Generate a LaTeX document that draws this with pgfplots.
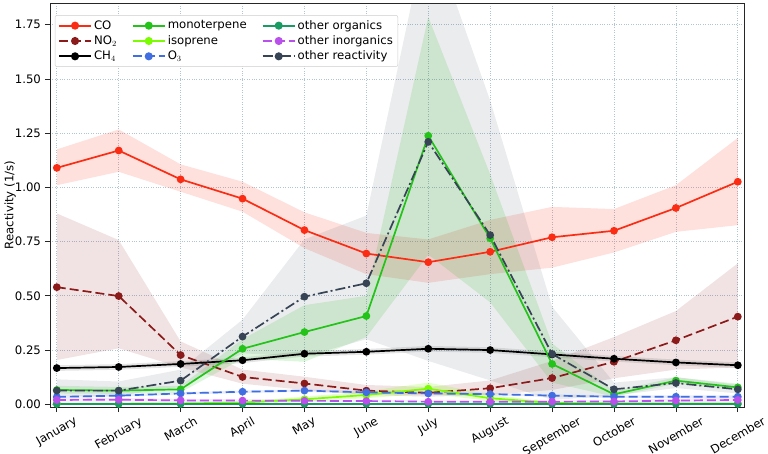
\documentclass[border=0pt]{standalone}
\usepackage{fontspec}
\setmainfont{DejaVu Sans}
\usepackage{graphicx}
\usepackage{pgfplots}
\pgfplotsset{compat=1.18}
\definecolor{cCO}{RGB}{250,45,20}
\definecolor{cNO}{RGB}{139,26,26}
\definecolor{cMono}{RGB}{35,195,25}
\definecolor{cIso}{RGB}{124,252,0}
\definecolor{cO3}{RGB}{65,110,225}
\definecolor{cOrg}{RGB}{25,155,100}
\definecolor{cInorg}{RGB}{185,80,235}
\definecolor{cReact}{RGB}{55,68,85}
\definecolor{gridc}{RGB}{176,196,210}
\newcommand{\ff}{\fontsize{11.7}{14}\selectfont}
\begin{document}
\ff
\begin{tikzpicture}[font=\ff]
\path[use as bounding box] (-50pt,-46pt) rectangle (718pt,407pt);
\begin{axis}[
  scale only axis, width=694pt, height=404pt,
  at={(0,0)}, anchor=south west,
  xmin=-0.11, xmax=11.1, ymin=-0.0125, ymax=1.85,
  xtick={0,1,2,3,4,5,6,7,8,9,10,11},
  xticklabels={\rotatebox{30}{January},\rotatebox{30}{February},\rotatebox{30}{March},\rotatebox{30}{April},\rotatebox{30}{May},\rotatebox{30}{June},\rotatebox{30}{July},\rotatebox{30}{August},\rotatebox{30}{September},\rotatebox{30}{October},\rotatebox{30}{November},\rotatebox{30}{December}},
  xticklabel style={anchor=north, font=\ff},
  ytick={0,0.25,0.5,0.75,1,1.25,1.5,1.75},
  yticklabel style={font=\ff, /pgf/number format/.cd, fixed, fixed zerofill, precision=2, assume math mode=true},
  tick pos=left, tick align=outside, major tick length=5pt,
  tick style={black!85, line width=0.8pt},
  axis line style={black!85, line width=0.9pt},
  grid=major, major grid style={gridc, dotted, line width=0.8pt},
  ylabel={Reactivity (1/s)},
  ylabel style={font=\ff, at={(axis description cs:-0.0576,0.5)}, anchor=center},
  legend columns=3, transpose legend,
  legend style={font=\ff, at={(0.007,0.97)}, anchor=north west, draw=black!20, rounded corners=2pt, fill=white, /tikz/every even column/.append style={column sep=13pt}, row sep=0.7pt, inner sep=3pt},
  legend cell align=left,
  every axis plot/.append style={line width=1.7pt, mark size=3pt,
    legend image code/.code={\draw[line width=2pt, mark repeat=2,mark phase=2] plot coordinates {(0pt,0pt)(16pt,0pt)(32pt,0pt)};}},
]
% ---- bands ----
\addplot[fill=cCO, fill opacity=0.15, draw=none, mark=none, forget plot] coordinates {
(0,1.175)(1,1.267)(2,1.106)(3,1.026)(4,0.885)(5,0.79)(6,0.76)(7,0.85)(8,0.91)(9,0.90)(10,1.01)(11,1.228)
(11,0.826)(10,0.795)(9,0.70)(8,0.63)(7,0.60)(6,0.56)(5,0.60)(4,0.72)(3,0.888)(2,0.98)(1,1.072)(0,1.01)};
\addplot[fill=cNO, fill opacity=0.12, draw=none, mark=none, forget plot] coordinates {
(0,0.88)(1,0.757)(2,0.29)(3,0.16)(4,0.127)(5,0.089)(6,0.08)(7,0.11)(8,0.20)(9,0.31)(10,0.43)(11,0.65)
(11,0.17)(10,0.16)(9,0.12)(8,0.066)(7,0.043)(6,0.035)(5,0.043)(4,0.066)(3,0.095)(2,0.17)(1,0.258)(0,0.204)};
\addplot[fill=black, fill opacity=0.1, draw=none, mark=none, forget plot] coordinates {
(0,0.180)(1,0.185)(2,0.199)(3,0.216)(4,0.246)(5,0.255)(6,0.269)(7,0.263)(8,0.243)(9,0.223)(10,0.206)(11,0.193)
(11,0.167)(10,0.180)(9,0.197)(8,0.217)(7,0.237)(6,0.243)(5,0.229)(4,0.220)(3,0.190)(2,0.173)(1,0.159)(0,0.154)};
\addplot[fill=cMono, fill opacity=0.15, draw=none, mark=none, forget plot] coordinates {
(0,0.085)(1,0.08)(2,0.085)(3,0.30)(4,0.457)(5,0.50)(6,1.786)(7,1.06)(8,0.28)(9,0.06)(10,0.125)(11,0.095)
(11,0.065)(10,0.095)(9,0.035)(8,0.10)(7,0.47)(6,0.69)(5,0.31)(4,0.196)(3,0.21)(2,0.055)(1,0.048)(0,0.05)};
\addplot[fill=cIso, fill opacity=0.2, draw=none, mark=none, forget plot] coordinates {
(0,0.006)(1,0.006)(2,0.007)(3,0.013)(4,0.035)(5,0.06)(6,0.10)(7,0.045)(8,0.01)(9,0.007)(10,0.007)(11,0.007)
(11,0.001)(10,0.001)(9,0.001)(8,0.002)(7,0.015)(6,0.05)(5,0.028)(4,0.013)(3,0.004)(2,0.001)(1,0)(0,0)};
\addplot[fill=cO3, fill opacity=0.12, draw=none, mark=none, forget plot] coordinates {
(0,0.040)(1,0.046)(2,0.056)(3,0.064)(4,0.069)(5,0.061)(6,0.056)(7,0.053)(8,0.046)(9,0.041)(10,0.041)(11,0.041)
(11,0.029)(10,0.029)(9,0.029)(8,0.034)(7,0.041)(6,0.044)(5,0.049)(4,0.057)(3,0.052)(2,0.044)(1,0.034)(0,0.028)};
\addplot[fill=cInorg, fill opacity=0.12, draw=none, mark=none, forget plot] coordinates {
(0,0.028)(1,0.029)(2,0.025)(3,0.023)(4,0.022)(5,0.021)(6,0.018)(7,0.018)(8,0.018)(9,0.020)(10,0.026)(11,0.030)
(11,0.010)(10,0.008)(9,0.006)(8,0.006)(7,0.006)(6,0.006)(5,0.009)(4,0.010)(3,0.011)(2,0.011)(1,0.013)(0,0.012)};
\addplot[fill=cReact, fill opacity=0.1, draw=none, mark=none, forget plot] coordinates {
(0,0.115)(1,0.105)(2,0.16)(3,0.39)(4,0.76)(5,0.87)(6,2.21)(7,1.40)(8,0.45)(9,0.10)(10,0.125)(11,0.09)
(11,0.05)(10,0.075)(9,0.04)(8,0.02)(7,0.11)(6,0.20)(5,0.30)(4,0.22)(3,0.235)(2,0.08)(1,0.04)(0,0.04)};
% ---- lines ----
\addplot[cCO, mark=*, mark options={solid}] coordinates {
(0,1.09)(1,1.17)(2,1.037)(3,0.948)(4,0.803)(5,0.695)(6,0.655)(7,0.703)(8,0.77)(9,0.80)(10,0.905)(11,1.026)};
\addlegendentry{CO}
\addplot[cNO, mark=*, mark options={solid}, dash pattern=on 9pt off 4pt] coordinates {
(0,0.54)(1,0.499)(2,0.227)(3,0.126)(4,0.096)(5,0.063)(6,0.053)(7,0.074)(8,0.121)(9,0.196)(10,0.295)(11,0.404)};
\addlegendentry{NO$_2$}
\addplot[black, mark=*, mark options={solid}] coordinates {
(0,0.167)(1,0.172)(2,0.186)(3,0.203)(4,0.233)(5,0.242)(6,0.256)(7,0.25)(8,0.23)(9,0.21)(10,0.193)(11,0.18)};
\addlegendentry{CH$_4$}
\addplot[cMono, mark=*, mark options={solid}] coordinates {
(0,0.066)(1,0.063)(2,0.069)(3,0.256)(4,0.333)(5,0.407)(6,1.238)(7,0.765)(8,0.186)(9,0.046)(10,0.109)(11,0.078)};
\addlegendentry{monoterpene}
\addplot[cIso, mark=*, mark options={solid}] coordinates {
(0,0.003)(1,0.003)(2,0.004)(3,0.008)(4,0.023)(5,0.043)(6,0.072)(7,0.028)(8,0.006)(9,0.004)(10,0.004)(11,0.004)};
\addlegendentry{isoprene}
\addplot[cO3, mark=*, mark options={solid}, dash pattern=on 9pt off 4pt] coordinates {
(0,0.034)(1,0.04)(2,0.05)(3,0.058)(4,0.063)(5,0.055)(6,0.05)(7,0.047)(8,0.04)(9,0.035)(10,0.035)(11,0.035)};
\addlegendentry{O$_3$}
\addplot[cOrg, mark=*, mark options={solid}] coordinates {
(0,0.002)(1,0.002)(2,0.002)(3,0.002)(4,0.002)(5,0.002)(6,0.002)(7,0.002)(8,0.002)(9,0.002)(10,0.002)(11,0.002)};
\addlegendentry{other organics}
\addplot[cInorg, mark=*, mark options={solid}, dash pattern=on 9pt off 4pt] coordinates {
(0,0.02)(1,0.021)(2,0.018)(3,0.017)(4,0.016)(5,0.015)(6,0.012)(7,0.012)(8,0.012)(9,0.013)(10,0.017)(11,0.02)};
\addlegendentry{other inorganics}
\addplot[cReact, mark=*, mark options={solid}, dash pattern=on 10pt off 3pt on 2pt off 3pt] coordinates {
(0,0.063)(1,0.063)(2,0.109)(3,0.312)(4,0.496)(5,0.558)(6,1.21)(7,0.78)(8,0.232)(9,0.069)(10,0.098)(11,0.069)};
\addlegendentry{other reactivity}
\end{axis}
\end{tikzpicture}
\end{document}
